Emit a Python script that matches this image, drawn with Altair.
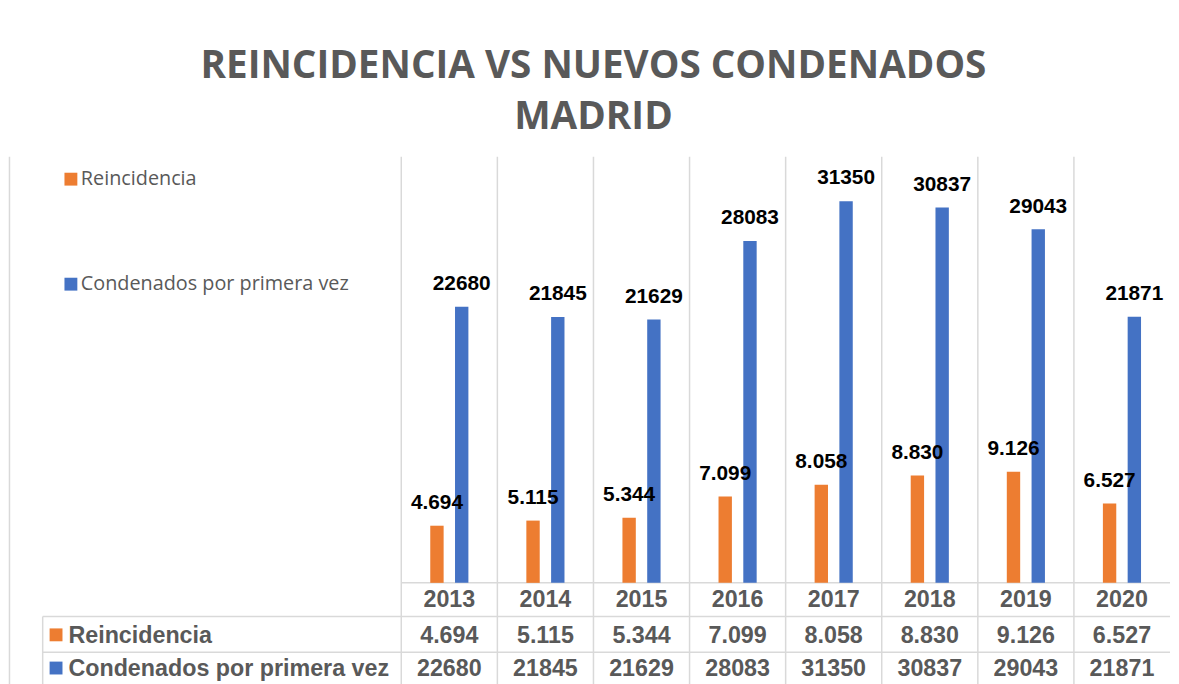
import altair as alt
import pandas as pd

years = ["2013", "2014", "2015", "2016", "2017", "2018", "2019", "2020"]
series = ["Reincidencia", "Condenados por primera vez"]
reincidencia = [4694, 5115, 5344, 7099, 8058, 8830, 9126, 6527]
condenados = [22680, 21845, 21629, 28083, 31350, 30837, 29043, 21871]
colors = ["#ED7D31", "#4472C4"]
title_lines = ["REINCIDENCIA VS NUEVOS CONDENADOS", "MADRID"]

rows = []
for y, v in zip(years, reincidencia):
    rows.append({"year": y, "serie": series[0], "valor": v, "etiqueta": f"{v:,}".replace(",", ".")})
for y, v in zip(years, condenados):
    rows.append({"year": y, "serie": series[1], "valor": v, "etiqueta": str(v)})
df = pd.DataFrame(rows)
years_df = pd.DataFrame({"year": years})
series_df = pd.DataFrame({"serie": series})

W = 776
H = 430
BAND = W / len(years)
GRID = "#d9d9d9"
TXT = "#595959"
NUM_FONT = "Liberation Sans"
offsets = [-12.5, 12.5]
BOTTOM = 546

xscale = alt.Scale(domain=years, paddingInner=0, paddingOuter=0)
yscale = alt.Scale(domain=[0, 35000], nice=False)
cscale = alt.Scale(domain=series, range=colors)

legend = alt.Legend(
    title=None,
    orient="left",
    offset=40,
    padding=12.5,
    symbolType="square",
    symbolSize=169,
    symbolStrokeWidth=0,
    labelFont="Open Sans",
    labelFontSize=20,
    labelColor=TXT,
    labelOffset=0,
    rowPadding=86,
    labelLimit=400,
)

base = alt.Chart(df)
layers = []

# vertical grid lines (plot + table)
layers.append(
    alt.Chart(years_df).mark_rule(color=GRID, strokeWidth=1.5, xOffset=-BAND / 2).encode(
        x=alt.X("year:N", scale=xscale, axis=None),
        y=alt.value(0),
        y2=alt.value(BOTTOM),
    )
)

one = years_df.head(1)
def hrule(x1, x2, y):
    return alt.Chart(one).mark_rule(color=GRID, strokeWidth=1.5).encode(
        x=alt.value(x1), x2=alt.value(x2), y=alt.value(y)
    )
def vrule(x, y1, y2):
    return alt.Chart(one).mark_rule(color=GRID, strokeWidth=1.5).encode(
        x=alt.value(x), y=alt.value(y1), y2=alt.value(y2)
    )

layers += [
    hrule(0, W, H),
    hrule(-362, W, 464),
    hrule(-362, W, 500),
    vrule(-362, 464, BOTTOM),
    vrule(-395.5, 0, BOTTOM),
]

# bars first, then their labels on top
for i, s in enumerate(series):
    sub = base.transform_filter(alt.datum.serie == s)
    layers.append(
        sub.mark_bar(width=13.5, xOffset=offsets[i]).encode(
            x=alt.X("year:N", scale=xscale, axis=None),
            y=alt.Y("valor:Q", scale=yscale, axis=None),
            color=alt.Color("serie:N", scale=cscale, legend=legend),
        )
    )
for i, s in enumerate(series):
    sub = base.transform_filter(alt.datum.serie == s)
    layers.append(
        sub.mark_text(
            font=NUM_FONT, fontSize=21, fontWeight="bold", color="#000000",
            baseline="alphabetic", dy=-17, dx=offsets[i],
        ).encode(
            x=alt.X("year:N", scale=xscale, axis=None),
            y=alt.Y("valor:Q", scale=yscale, axis=None),
            text="etiqueta:N",
        )
    )

# data table: years row
layers.append(
    alt.Chart(years_df).mark_text(
        font=NUM_FONT, fontSize=23.5, fontWeight="bold", color=TXT, baseline="middle"
    ).encode(
        x=alt.X("year:N", scale=xscale, axis=None),
        y=alt.value(447.5),
        text="year:N",
    )
)

row_y = [483.5, 517]
for i, s in enumerate(series):
    layers.append(
        base.transform_filter(alt.datum.serie == s).mark_text(
            font=NUM_FONT, fontSize=23.5, fontWeight="bold", color=TXT, baseline="middle"
        ).encode(
            x=alt.X("year:N", scale=xscale, axis=None),
            y=alt.value(row_y[i]),
            text="etiqueta:N",
        )
    )
    srow = alt.Chart(series_df).transform_filter(alt.datum.serie == s)
    layers.append(
        srow.mark_text(
            font=NUM_FONT, fontSize=23.5, fontWeight="bold", color=TXT,
            baseline="middle", align="left",
        ).encode(x=alt.value(-336), y=alt.value(row_y[i]), text="serie:N")
    )
    layers.append(
        srow.mark_square(size=169, opacity=1, filled=True, color=colors[i]).encode(
            x=alt.value(-348.5), y=alt.value(row_y[i] - 1)
        )
    )

chart = alt.layer(*layers).properties(
    width=W,
    height=H,
    padding={"left": 0, "top": 36, "right": 0, "bottom": 0},
    background="white",
    title=alt.TitleParams(
        text=title_lines,
        font="Open Sans",
        fontSize=39,
        fontWeight="bold",
        color=TXT,
        anchor="middle",
        dx=-194,
        lineHeight=52,
        offset=19,
    ),
).configure_view(stroke=None)

chart.save("out.html", embed_options={"renderer": "svg", "actions": False})
